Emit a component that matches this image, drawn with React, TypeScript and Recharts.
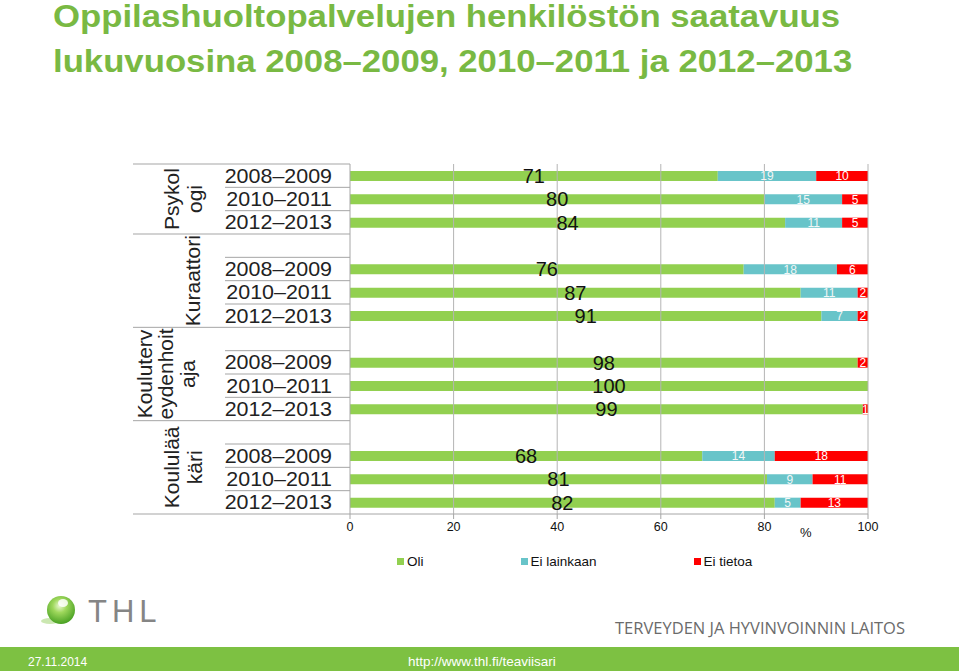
import React from 'react';
import { BarChart, Bar, XAxis, YAxis, ReferenceLine, LabelList } from 'recharts';

// ---------- data ----------
const groups = ['Psykologi', 'Kuraattori', 'Kouluterveydenhoitaja', 'Koululääkäri'];
const groupLabelLines = [['Psykol', 'ogi'], ['Kuraattori'], ['Kouluterv', 'eydenhoit', 'aja'], ['Koululää', 'käri']];
const years = ['2008–2009', '2010–2011', '2012–2013'];
const oli = [71, 80, 84, 76, 87, 91, 98, 100, 99, 68, 80.5, 82];
const eiLainkaan = [19, 15, 11, 18, 11, 7, 0, 0, 0, 14, 8.8, 5];
const eiTietoa = [10, 5, 5, 6, 2, 2, 2, 0, 1, 18, 10.7, 13];
const xTicks = [0, 20, 40, 60, 80, 100];
const seriesKeys = ['oli', 'eiLainkaan', 'eiTietoa'];
const seriesNames = ['Oli', 'Ei lainkaan', 'Ei tietoa'];
const seriesColors = ['#92D050', '#68C4C9', '#FF0000'];
const titleLines = ['Oppilashuoltopalvelujen henkilöstön saatavuus', 'lukuvuosina 2008–2009, 2010–2011 ja 2012–2013'];

// ---------- layout ----------
const W = 959;
const H = 671;
const PLOT_TOP = 164;
const PLOT_BOTTOM = 514;
const PLOT_LEFT = 350;
const PLOT_RIGHT = 868;
const X_AXIS_H = 30;
const CHART_H = 600;
const FONT = '"Liberation Sans", Arial, sans-serif';
const LINE_COLOR = '#a6a6a6';
const GROUP_LINE_X = 133;
const ROW_LINE_X = 225;
const GROUP_BASELINES: Record<number, number[]> = { 1: [200], 2: [179, 202], 3: [152, 173, 195] };

type Row = {
  key: string;
  gi: number;
  year: string;
  blank: boolean;
  first: boolean;
  span: number;
  oli: number | null;
  eiLainkaan: number | null;
  eiTietoa: number | null;
};

const rows: Row[] = [];
{
  let vi = 0;
  groups.forEach((g, gi) => {
    const span = years.length + (gi > 0 ? 1 : 0);
    if (gi > 0) {
      rows.push({ key: `${g} -`, gi, year: '', blank: true, first: true, span, oli: null, eiLainkaan: null, eiTietoa: null });
    }
    years.forEach((yr, yi) => {
      rows.push({
        key: `${g} ${yr}`,
        gi,
        year: yr,
        blank: false,
        first: gi === 0 && yi === 0,
        span,
        oli: oli[vi],
        eiLainkaan: eiLainkaan[vi],
        eiTietoa: eiTietoa[vi],
      });
      vi++;
    });
  });
}

const HALF = (PLOT_BOTTOM - PLOT_TOP) / rows.length / 2;

const fmt = (v: any) => (v === null || v === undefined || v === '' ? '' : String(Math.round(Number(v))));

function YTick(props: any) {
  const { payload } = props;
  const y = Number(props.y);
  const idx = rows.findIndex((r) => r.key === payload.value);
  if (idx < 0) return null;
  const row = rows[idx];
  const top = y - HALF;
  const out: React.ReactNode[] = [];
  const x0 = row.first ? GROUP_LINE_X : ROW_LINE_X;
  out.push(<rect key="t" x={x0} y={top - 0.5} width={PLOT_LEFT - x0} height={1} fill={LINE_COLOR} stroke="none" />);
  if (idx === rows.length - 1) {
    out.push(
      <rect key="b" x={GROUP_LINE_X} y={y + HALF - 0.5} width={PLOT_LEFT - GROUP_LINE_X} height={1} fill={LINE_COLOR} stroke="none" />
    );
  }
  if (!row.blank) {
    out.push(
      <g key="yr" transform={`translate(332, ${y}) scale(1.1, 1)`}>
        <text x={0} y={0} dy="0.35em" textAnchor="end" fontSize={19.5} fill="#222" stroke="none" fontFamily={FONT}>
          {row.year}
        </text>
      </g>
    );
  }
  if (row.first) {
    const lines = groupLabelLines[row.gi];
    const cy = top + row.span * HALF;
    const bases = GROUP_BASELINES[lines.length];
    lines.forEach((ln, li) => {
      out.push(
        <text
          key={`g${li}`}
          transform={`translate(${bases[li]}, ${cy}) rotate(-90)`}
          x={0}
          y={0}
          textAnchor="middle"
          fontSize={21}
          fill="#222"
          stroke="none"
          fontFamily={FONT}
        >
          {ln}
        </text>
      );
    });
  }
  return <g>{out}</g>;
}

const labelColors = ['#111', '#f2f6f6', '#ffffff'];
const labelSizes = [20, 12, 12];

export default function App() {
  return (
    <div style={{ position: 'relative', width: W, height: H, background: '#fff', fontFamily: FONT, overflow: 'hidden' }}>
      <style>{`body{margin:0;}`}</style>

      {/* title */}
      <div
        style={{
          position: 'absolute',
          left: 53,
          top: -6,
          color: '#79B943',
          fontWeight: 'bold',
          fontSize: 31,
          lineHeight: '45px',
          transform: 'scaleX(1.12)',
          transformOrigin: 'left top',
          whiteSpace: 'nowrap',
        }}
      >
        {titleLines.map((t) => (
          <div key={t}>{t}</div>
        ))}
      </div>

      {/* chart */}
      <div style={{ position: 'absolute', left: 0, top: 0 }}>
        <BarChart
          width={W}
          height={CHART_H}
          data={rows}
          layout="vertical"
          margin={{ top: PLOT_TOP, right: W - PLOT_RIGHT, left: 0, bottom: CHART_H - PLOT_BOTTOM - X_AXIS_H }}
          barCategoryGap={0}
        >
          <XAxis
            type="number"
            domain={[0, 100]}
            ticks={xTicks}
            allowDataOverflow
            height={X_AXIS_H}
            axisLine={{ stroke: LINE_COLOR }}
            tickLine={{ stroke: LINE_COLOR }}
            tickSize={5}
            tickMargin={3}
            tick={{ fill: '#111', fontSize: 12.5 }}
          />
          <YAxis
            type="category"
            dataKey="key"
            width={PLOT_LEFT}
            interval={0}
            axisLine={false}
            tickLine={false}
            tick={<YTick />}
          />
          {xTicks.slice(1).map((t) => (
            <ReferenceLine key={t} x={t} stroke="#b4b4b4" strokeWidth={1} />
          ))}
          <ReferenceLine x={0} stroke={LINE_COLOR} strokeWidth={1} />
          {seriesKeys.map((k, i) => (
            <Bar key={k} dataKey={k} name={seriesNames[i]} stackId="s" fill={seriesColors[i]} barSize={10} isAnimationActive={false}>
              <LabelList dataKey={k} position="center" formatter={fmt} fill={labelColors[i]} fontSize={labelSizes[i]} />
            </Bar>
          ))}
        </BarChart>
      </div>

      {/* % unit */}
      <div style={{ position: 'absolute', left: 800, top: 525, fontSize: 13, color: '#111' }}>%</div>

      {/* legend */}
      <div style={{ position: 'absolute', left: 397, top: 554, display: 'flex', gap: 97, fontSize: 13.5, color: '#111', whiteSpace: 'nowrap' }}>
        {seriesNames.map((n, i) => (
          <div key={n} style={{ display: 'flex', alignItems: 'center' }}>
            <span style={{ display: 'inline-block', width: 7, height: 7, background: seriesColors[i], marginRight: 3 }} />
            <span>{n}</span>
          </div>
        ))}
      </div>

      {/* footer logo */}
      <svg style={{ position: 'absolute', left: 30, top: 590 }} width={140} height={45}>
        <defs>
          <radialGradient id="sph" cx="45%" cy="35%" r="70%">
            <stop offset="0%" stopColor="#eaf8d2" />
            <stop offset="35%" stopColor="#9fd85c" />
            <stop offset="100%" stopColor="#3e9a1c" />
          </radialGradient>
        </defs>
        <ellipse cx={20} cy={31} rx={9} ry={3} fill="#a9d77d" opacity={0.6} />
        <circle cx={31} cy={20} r={14} fill="url(#sph)" />
        <ellipse cx={33} cy={13} rx={5} ry={4} fill="#ffffff" opacity={0.85} />
        <text x={58} y={32} fontSize={31} fill="#858585" letterSpacing={5} fontFamily={FONT}>
          THL
        </text>
      </svg>
      <div
        style={{
          position: 'absolute',
          left: 615,
          top: 618,
          fontSize: 16.5,
          color: '#6b6b6b',
          fontFamily: '"Open Sans", sans-serif',
          whiteSpace: 'nowrap',
          lineHeight: '20px',
        }}
      >
        TERVEYDEN JA HYVINVOINNIN LAITOS
      </div>

      {/* footer band */}
      <div style={{ position: 'absolute', left: 0, top: 647, width: W, height: H - 647, background: '#7DC142' }} />
      <div style={{ position: 'absolute', left: 28, top: 654, fontSize: 12, color: '#fff', lineHeight: '16px' }}>27.11.2014</div>
      <div style={{ position: 'absolute', left: 408, top: 654, fontSize: 13.5, color: '#fff', lineHeight: '16px' }}>
        http://www.thl.fi/teaviisari
      </div>
    </div>
  );
}
